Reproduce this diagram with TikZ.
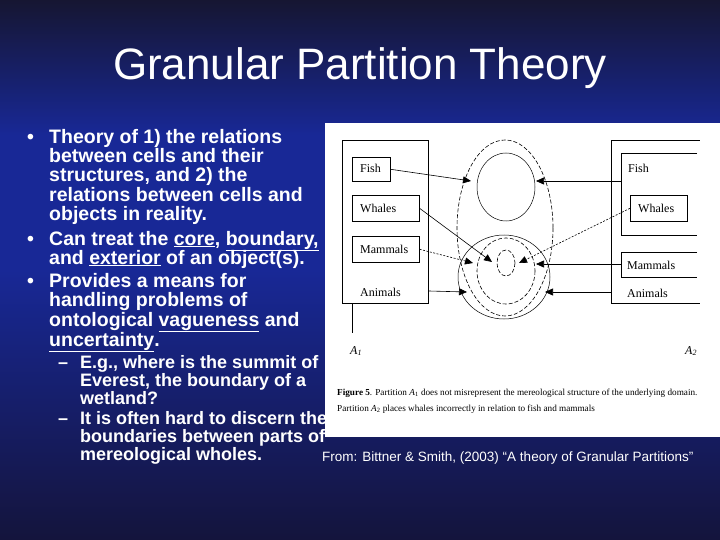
\documentclass[tikz,border=0pt]{standalone}
\usepackage{fontspec}
\setmainfont{Liberation Sans}
\newfontfamily\serif{Liberation Serif}
\usetikzlibrary{arrows.meta}
\begin{document}
\begin{tikzpicture}[x=1pt,y=-1pt,
  bl/.style={anchor=base west,text=white,font=\bfseries\fontsize{19.5}{20}\selectfont,inner sep=0},
  sl/.style={anchor=base west,text=white,font=\bfseries\fontsize{18}{19}\selectfont,inner sep=0},
  dl/.style={anchor=base west,text=black,font=\serif\fontsize{12}{13}\selectfont,inner sep=0},
  bx/.style={draw=black,line width=0.6pt},
  ar/.style={draw=black,line width=0.6pt,-{Triangle[length=8pt,width=7pt]}},
  dar/.style={ar,dash pattern=on 2pt off 1.5pt},
  dsh/.style={draw=black,line width=0.6pt,dash pattern=on 4pt off 2pt}]
\shade[top color={rgb,255:red,22;green,22;blue,50},bottom color={rgb,255:red,24;green,40;blue,150},middle color={rgb,255:red,24;green,40;blue,150}] (0,0) rectangle (720,270);
\shade[top color={rgb,255:red,24;green,40;blue,150},bottom color={rgb,255:red,20;green,20;blue,60}] (0,270) rectangle (720,540);
\useasboundingbox (0,0) rectangle (720,540);
\node[text=white,font=\fontsize{44}{48}\selectfont] (title) at (360,68) {Granular Partition Theory};
% left text
\node[bl] (b1) at (27,144) {•};
\node[bl] (l1) at (49,144) {Theory of 1) the relations};
\node[bl] (l2) at (49,163) {between cells and their};
\node[bl] (l3) at (49,182) {structures, and 2) the};
\node[bl] (l4) at (49,202) {relations between cells and};
\node[bl] (l5) at (49,221) {objects in reality.};
\node[bl] (b2) at (27,245) {•};
\node[bl] (l6) at (49,245) {Can treat the \underline{core}, \underline{boundary,}};
\node[bl] (l7) at (49,264) {and \underline{exterior} of an object(s).};
\node[bl] (b3) at (27,287) {•};
\node[bl] (l8) at (49,287) {Provides a means for};
\node[bl] (l9) at (49,306) {handling problems of};
\node[bl] (l10) at (49,326) {ontological \underline{vagueness} and};
\node[bl] (l11) at (49,346) {\underline{uncertainty}.};
\node[sl] (d1) at (58,368) {–};
\node[sl] (s1) at (80,368) {E.g., where is the summit of};
\node[sl] (s2) at (80,386) {Everest, the boundary of a};
\node[sl] (s3) at (80,404) {wetland?};
\node[sl] (d2) at (58,424) {–};
\node[sl] (s4) at (80,424) {It is often hard to discern the};
\node[sl] (s5) at (80,442) {boundaries between parts of};
\node[sl] (s6) at (80,460) {mereological wholes.};
% figure panel
\fill[white] (325,123) rectangle (720,437);
\node[bx,minimum width=86,minimum height=163,anchor=north west,inner sep=0] (A1box) at (342,140) {};
\node[bx,minimum width=38,minimum height=24,anchor=north west,inner sep=0] (fishL) at (352,157) {};
\node[dl] at (360,173) {Fish};
\node[bx,minimum width=67,minimum height=26,anchor=north west,inner sep=0] (whL) at (352,195) {};
\node[dl] at (360,213) {Whales};
\node[bx,minimum width=67,minimum height=26,anchor=north west,inner sep=0] (maL) at (352,236) {};
\node[dl] at (360,254) {Mammals};
\node[dl] (anL) at (360,296) {Animals};
\coordinate (t1) at (352,303); \coordinate (t2) at (352,333);
\draw[line width=0.6pt] (t1) -- (t2);
\node[dl] (a1) at (350,354) {\itshape A\textsubscript{\itshape 1}};
% right
\node[bx,minimum width=92,minimum height=163,anchor=north west,inner sep=0] (A2box) at (611,140) {};
\fill[white] (700,139) rectangle (705,304);
\draw[line width=0.6pt] (697,153) -| (621,235) -- (697,235);
\draw[line width=0.6pt] (697,252) -| (621,277) -- (697,277);
\node[dl] at (628,173) {Fish};
\node[bx,minimum width=57,minimum height=26,anchor=north west,inner sep=0] (whR) at (630,195) {};
\node[dl] at (638,213) {Whales};
\node[dl] at (627,269) {Mammals};
\node[dl] at (627,297) {Animals};
\node[dl] (a2) at (685,354) {\itshape A\textsubscript{\itshape 2}};
% circles
\draw[dsh] (505,228) ellipse (48 and 88);
\draw[line width=0.5pt] (506,187) ellipse (29 and 34);
\draw[dsh] (506,271) ellipse (29 and 33);
\draw[line width=0.5pt] (504,277) ellipse (46 and 42);
\draw[dsh] (506,263) ellipse (9 and 13);
\coordinate (e1) at (471,181); \coordinate (e2) at (492,262);
\coordinate (e3) at (473,263); \coordinate (e4) at (467,292);
\coordinate (e5) at (536,181); \coordinate (e6) at (519,263);
\coordinate (e7) at (536,264); \coordinate (e8) at (545,292);
\draw[ar] (fishL.east) -- (e1);
\draw[ar] (whL.east) -- (e2);
\draw[dar] (maL.east) -- (e3);
\draw[ar] (429,291) -- (e4);
\draw[ar] (621,181) -- (e5);
\draw[dar] (whR.west) -- (e6);
\draw[ar] (621,264) -- (e7);
\draw[ar] (611,292) -- (e8);
\node[dl,font=\serif\fontsize{9.2}{10}\selectfont] (cap1) at (337,395) {\textbf{Figure 5}. Partition \textit{A}\textsubscript{1} does not misrepresent the mereological structure of the underlying domain.};
\node[dl,font=\serif\fontsize{9.2}{10}\selectfont] (cap2) at (337,411) {Partition \textit{A}\textsubscript{2} places whales incorrectly in relation to fish and mammals};
\node[anchor=base west,inner sep=0,text=white,font=\fontsize{13.5}{14}\selectfont] (src) at (322,461) {From: Bittner \& Smith, (2003) “A theory of Granular Partitions”};
\end{tikzpicture}
\end{document}
